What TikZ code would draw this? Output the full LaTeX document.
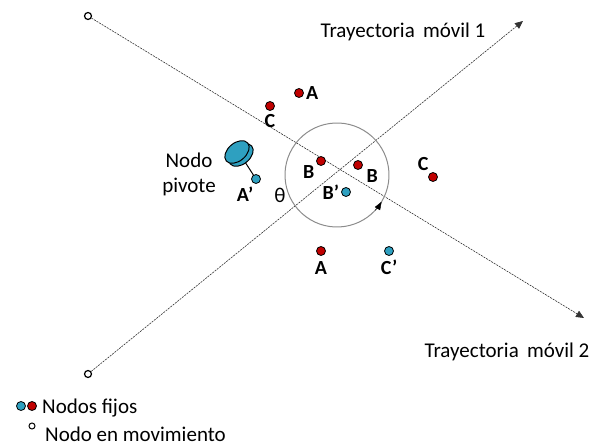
\documentclass[tikz,border=0pt]{standalone}
\usepackage{fontspec}
\setmainfont{Carlito}
\usetikzlibrary{positioning,arrows.meta}
\definecolor{rojo}{RGB}{192,0,0}
\definecolor{cian}{RGB}{46,160,192}
\tikzset{
  fijo/.style={circle, draw=black, line width=0.8pt, minimum size=9pt, inner sep=0pt},
  movil/.style={circle, draw=black, line width=1.2pt, minimum size=7pt, inner sep=0pt},
  tray/.style={line width=0.6pt, black!80, dash pattern=on 2pt off 1pt},
  etiq/.style={font=\fontsize{20}{23}\selectfont\bfseries, inner sep=1pt},
  texto/.style={font=\fontsize{21}{24}\selectfont, inner sep=0pt}
}
\begin{document}
\begin{tikzpicture}[x=1pt,y=1pt]
		%%%%% START %%%%%
		\useasboundingbox (0,0) rectangle (598,445);
		
		% trayectorias
		\node[movil] (s1) at (88,429) {};
		\node[movil] (s2) at (88,71) {};
		\coordinate (e1) at (584,127);
		\coordinate (e2) at (523,424);
		\draw[tray, -{Triangle[length=8pt,width=7pt]}] (s1) -- (e1);
		\draw[tray, -{Triangle[length=8pt,width=7pt]}] (s2) -- (e2);
		\node[texto] (t1) at (403,413) {Trayectoria\, móvil 1};
		\node[texto] (t2) at (507,93) {Trayectoria\, móvil 2};
		
		% angulo
		\coordinate (o) at (337,270);
		\draw[black!45, line width=1pt] (o) ++(-31:52) arc (-31:329:52);
		\draw[black, line width=0.4pt, -{Triangle[length=8pt,width=6pt]}] (o) ++(-43:52) arc (-43:-31:52);
		\node[texto] (th) at (280,250) {θ};
		
		% nodos fijos
		\node[fijo, fill=rojo] (A1) at (299,352) {};
		\node[fijo, fill=rojo] (C1) at (270,339) {};
		\node[fijo, fill=rojo] (B1) at (321,284) {};
		\node[fijo, fill=rojo] (B2) at (358,280) {};
		\node[fijo, fill=rojo] (C2) at (433,268) {};
		\node[fijo, fill=rojo] (A2) at (321,194) {};
		\node[fijo, fill=cian] (Bp) at (346,253) {};
		\node[fijo, fill=cian] (Cp) at (389,194) {};
		\node[fijo, fill=cian] (Ap) at (256,266) {};
		
		\node[etiq, right=1pt of A1] {A};
		\node[etiq, below=2pt of C1] {C};
		\node[etiq, below left=0pt and 2pt of B1] {B};
		\node[etiq, below right=0pt and 4pt of B2] {B};
		\node[etiq, above left=2pt and 0pt of C2] {C};
		\node[etiq, below=4pt of A2] {A};
		\node[etiq, left=1pt of Bp] {B’};
		\node[etiq, below=3pt of Cp] {C’};
		\node[etiq, below left=3pt and -2pt of Ap] {A’};
		
		% nodo pivote
		\draw[line width=1pt] (Ap) -- (245,283);
		\draw[fill=cian, line width=1pt, rotate around={40:(241,290)}] (241,290) ellipse (14 and 9);
		\draw[fill=cian, line width=1pt, rotate around={40:(237,293)}] (237,293) ellipse (14 and 9);
		\node[texto] (n1) at (189,285) {Nodo};
		\node[texto] (n2) at (189,258) {pivote};
		
		% leyenda
		\node[fijo, fill=cian] (lc) at (21,39) {};
		\node[fijo, fill=rojo] (lr) at (32,39) {};
		\node[texto, anchor=west] (l1) at (42,37) {Nodos fijos};
		\node[movil, minimum size=6pt, line width=1pt] (lm) at (32,19) {};
		\node[texto, anchor=west] (l2) at (45,11) {Nodo en movimiento};
		
		%%%%% END %%%%%
	\end{tikzpicture}
\end{document}
